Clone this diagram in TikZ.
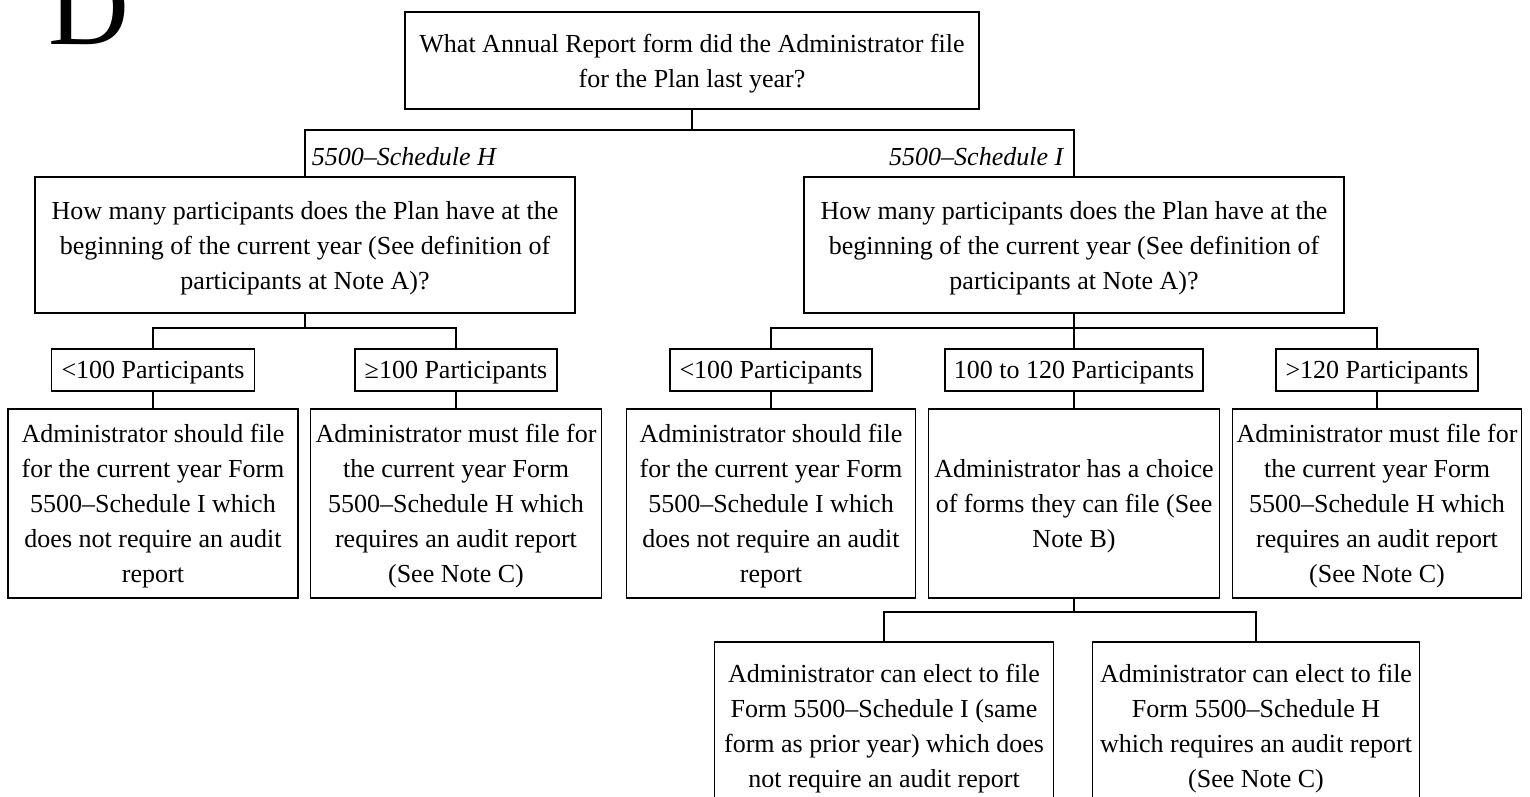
\documentclass[tikz,border=0pt]{standalone}
\usepackage{fontspec}
\setmainfont{Liberation Serif}

\begin{document}
\begin{tikzpicture}[x=0.5pt, y=-0.5pt, line width=0.8pt,
    qbox/.style={draw, align=center, inner sep=0pt, text depth=-8pt, font=\fontsize{13}{17.5}\selectfont},
    brlabel/.style={inner sep=0pt, font=\fontsize{13}{17.5}\selectfont\itshape}]
  \useasboundingbox (0,0) rectangle (1530,797);
  \clip (0,0) rectangle (1530,797);

  \node[anchor=base west, inner sep=0pt, font=\fontsize{56}{60}\selectfont] (letter) at (48,45) {D};

  % questions
  \node[qbox, minimum width=287pt, minimum height=48.5pt] (form) at (692,60.5) {What Annual Report form did the Administrator file\\for the Plan last year?};
  \node[qbox, minimum width=270pt, minimum height=68pt] (qH) at (305,245) {How many participants does the Plan have at the\\beginning of the current year (See definition of\\participants at Note A)?};
  \node[qbox, minimum width=270pt, minimum height=68pt] (qI) at (1074,245) {How many participants does the Plan have at the\\beginning of the current year (See definition of\\participants at Note A)?};

  \node[brlabel, anchor=west] (labH) at (311,157) {5500--Schedule H};
  \node[brlabel, anchor=east] (labI) at (1064,157) {5500--Schedule I};

  % participant counts
  \node[qbox, minimum width=101.5pt, minimum height=21pt] (sH1) at (153,370) {<100 Participants};
  \node[qbox, minimum width=101pt, minimum height=21pt] (sH2) at (456,370) {≥100 Participants};
  \node[qbox, minimum width=101pt, minimum height=21pt] (sI1) at (771,370) {<100 Participants};
  \node[qbox, minimum width=129pt, minimum height=21pt] (sI2) at (1074,370) {100 to 120 Participants};
  \node[qbox, minimum width=101pt, minimum height=21pt] (sI3) at (1377,370) {>120 Participants};

  % results
  \node[qbox, minimum width=145pt, minimum height=94.5pt] (rH1) at (153,503.5) {Administrator should file\\for the current year Form\\5500--Schedule I which\\does not require an audit\\report};
  \node[qbox, minimum width=145.5pt, minimum height=94.5pt] (rH2) at (456,503.5) {Administrator must file for\\the current year Form\\5500--Schedule H which\\requires an audit report\\(See Note C)};
  \node[qbox, minimum width=144.5pt, minimum height=94.5pt] (rI1) at (771,503.5) {Administrator should file\\for the current year Form\\5500--Schedule I which\\does not require an audit\\report};
  \node[qbox, minimum width=145.5pt, minimum height=94.5pt] (rI2) at (1074,503.5) {Administrator has a choice\\of forms they can file (See\\Note B)};
  \node[qbox, minimum width=144.5pt, minimum height=94.5pt] (rI3) at (1377,503.5) {Administrator must file for\\the current year Form\\5500--Schedule H which\\requires an audit report\\(See Note C)};

  \node[qbox, minimum width=169.5pt, minimum height=83.5pt] (eI) at (884,725.5) {Administrator can elect to file\\Form 5500--Schedule I (same\\form as prior year) which does\\not require an audit report};
  \node[qbox, minimum width=163.5pt, minimum height=83.5pt] (eH) at (1256,725.5) {Administrator can elect to file\\Form 5500--Schedule H\\which requires an audit report\\(See Note C)};

  % connectors
  \coordinate (j0) at (692,130);
  \coordinate (jH) at (305,328);
  \coordinate (jI) at (1074,328);
  \coordinate (jE) at (1074,612);

  \draw (form.south) -- (j0);
  \draw (qH.north) |- (j0) -| (qI.north);
  \draw (qH.south) -- (jH);
  \draw (sH1.north) |- (jH) -| (sH2.north);
  \draw (qI.south) -- (sI2.north);
  \draw (sI1.north) |- (jI) -| (sI3.north);
  \draw (sH1.south) -- (rH1.north);
  \draw (sH2.south) -- (rH2.north);
  \draw (sI1.south) -- (rI1.north);
  \draw (sI2.south) -- (rI2.north);
  \draw (sI3.south) -- (rI3.north);
  \draw (rI2.south) -- (jE);
  \draw (eI.north) |- (jE) -| (eH.north);
\end{tikzpicture}
\end{document}
